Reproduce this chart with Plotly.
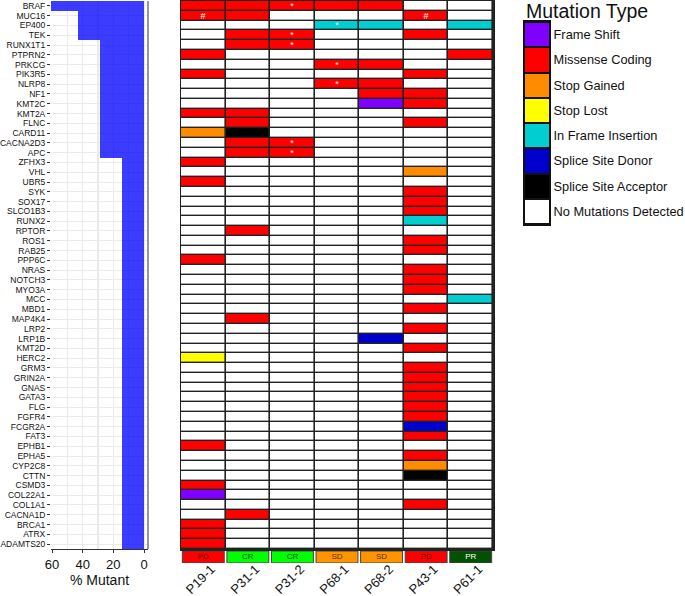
import plotly.graph_objects as go

# ---------------- data ----------------
genes = ["BRAF", "MUC16", "EP400", "TEK", "RUNX1T1", "PTPRN2", "PRKCG", "PIK3R5", "NLRP8",
         "NF1", "KMT2C", "KMT2A", "FLNC", "CARD11", "CACNA2D3", "APC", "ZFHX3", "VHL", "UBR5",
         "SYK", "SOX17", "SLCO1B3", "RUNX2", "RPTOR", "ROS1", "RAB25", "PPP6C", "NRAS",
         "NOTCH3", "MYO3A", "MCC", "MBD1", "MAP4K4", "LRP2", "LRP1B", "KMT2D", "HERC2",
         "GRM3", "GRIN2A", "GNAS", "GATA3", "FLG", "FGFR4", "FCGR2A", "FAT3", "EPHB1",
         "EPHA5", "CYP2C8", "CTTN", "CSMD3", "COL22A1", "COL1A1", "CACNA1D", "BRCA1",
         "ATRX", "ADAMTS20"]

samples = ["P19-1", "P31-1", "P31-2", "P68-1", "P68-2", "P43-1", "P61-1"]
responses = ["PD", "CR", "CR", "SD", "SD", "PD", "PR"]

pct_mutant = [71.4, 42.9, 42.9, 42.9,
              28.6, 28.6, 28.6, 28.6, 28.6, 28.6, 28.6, 28.6, 28.6, 28.6, 28.6, 28.6,
              14.3, 14.3, 14.3, 14.3, 14.3, 14.3, 14.3, 14.3, 14.3, 14.3,
              14.3, 14.3, 14.3, 14.3, 14.3, 14.3, 14.3, 14.3, 14.3, 14.3,
              14.3, 14.3, 14.3, 14.3, 14.3, 14.3, 14.3, 14.3, 14.3, 14.3,
              14.3, 14.3, 14.3, 14.3, 14.3, 14.3, 14.3, 14.3, 14.3, 14.3]

# codes: 0 none, 1 frame shift, 2 missense, 3 stop gained, 4 stop lost,
#        5 in-frame insertion, 6 splice donor, 7 splice acceptor
mutation_types = ["No Mutations Detected", "Frame Shift", "Missense Coding", "Stop Gained",
                  "Stop Lost", "In Frame Insertion", "Splice Site Donor", "Splice Site Acceptor"]
type_colors = ["#FFFFFF", "#7F00FF", "#FF0000", "#FF8C00", "#FFFF00", "#00CED1", "#0000CD", "#000000"]
legend_order = [1, 2, 3, 4, 5, 6, 7, 0]

mutation_matrix = [
    [2, 2, 2, 2, 2, 0, 0],  # BRAF
    [2, 2, 0, 0, 0, 2, 0],  # MUC16
    [0, 0, 0, 5, 5, 0, 5],  # EP400
    [0, 2, 2, 0, 0, 2, 0],  # TEK
    [0, 2, 2, 0, 0, 0, 0],  # RUNX1T1
    [2, 0, 0, 0, 0, 0, 2],  # PTPRN2
    [0, 0, 0, 2, 2, 0, 0],  # PRKCG
    [2, 0, 0, 0, 0, 2, 0],  # PIK3R5
    [0, 0, 0, 2, 2, 0, 0],  # NLRP8
    [0, 0, 0, 0, 2, 2, 0],  # NF1
    [0, 0, 0, 0, 1, 2, 0],  # KMT2C
    [2, 2, 0, 0, 0, 0, 0],  # KMT2A
    [0, 2, 0, 0, 0, 2, 0],  # FLNC
    [3, 7, 0, 0, 0, 0, 0],  # CARD11
    [0, 2, 2, 0, 0, 0, 0],  # CACNA2D3
    [0, 2, 2, 0, 0, 0, 0],  # APC
    [2, 0, 0, 0, 0, 0, 0],  # ZFHX3
    [0, 0, 0, 0, 0, 3, 0],  # VHL
    [2, 0, 0, 0, 0, 0, 0],  # UBR5
    [0, 0, 0, 0, 0, 2, 0],  # SYK
    [0, 0, 0, 0, 0, 2, 0],  # SOX17
    [0, 0, 0, 0, 0, 2, 0],  # SLCO1B3
    [0, 0, 0, 0, 0, 5, 0],  # RUNX2
    [0, 2, 0, 0, 0, 0, 0],  # RPTOR
    [0, 0, 0, 0, 0, 2, 0],  # ROS1
    [0, 0, 0, 0, 0, 2, 0],  # RAB25
    [2, 0, 0, 0, 0, 0, 0],  # PPP6C
    [0, 0, 0, 0, 0, 2, 0],  # NRAS
    [0, 0, 0, 0, 0, 2, 0],  # NOTCH3
    [0, 0, 0, 0, 0, 2, 0],  # MYO3A
    [0, 0, 0, 0, 0, 0, 5],  # MCC
    [0, 0, 0, 0, 0, 2, 0],  # MBD1
    [0, 2, 0, 0, 0, 0, 0],  # MAP4K4
    [0, 0, 0, 0, 0, 2, 0],  # LRP2
    [0, 0, 0, 0, 6, 0, 0],  # LRP1B
    [0, 0, 0, 0, 0, 2, 0],  # KMT2D
    [4, 0, 0, 0, 0, 0, 0],  # HERC2
    [0, 0, 0, 0, 0, 2, 0],  # GRM3
    [0, 0, 0, 0, 0, 2, 0],  # GRIN2A
    [0, 0, 0, 0, 0, 2, 0],  # GNAS
    [0, 0, 0, 0, 0, 2, 0],  # GATA3
    [0, 0, 0, 0, 0, 2, 0],  # FLG
    [0, 0, 0, 0, 0, 2, 0],  # FGFR4
    [0, 0, 0, 0, 0, 6, 0],  # FCGR2A
    [0, 0, 0, 0, 0, 2, 0],  # FAT3
    [2, 0, 0, 0, 0, 0, 0],  # EPHB1
    [0, 0, 0, 0, 0, 2, 0],  # EPHA5
    [0, 0, 0, 0, 0, 3, 0],  # CYP2C8
    [0, 0, 0, 0, 0, 7, 0],  # CTTN
    [2, 0, 0, 0, 0, 0, 0],  # CSMD3
    [1, 0, 0, 0, 0, 0, 0],  # COL22A1
    [0, 0, 0, 0, 0, 2, 0],  # COL1A1
    [0, 2, 0, 0, 0, 0, 0],  # CACNA1D
    [2, 0, 0, 0, 0, 0, 0],  # BRCA1
    [2, 0, 0, 0, 0, 0, 0],  # ATRX
    [2, 0, 0, 0, 0, 0, 0],  # ADAMTS20
]

mark_genes = ["BRAF", "TEK", "RUNX1T1", "CACNA2D3", "APC", "EP400", "PRKCG", "NLRP8", "MUC16", "MUC16"]
mark_samples = ["P31-2", "P31-2", "P31-2", "P31-2", "P31-2", "P68-1", "P68-1", "P68-1", "P19-1", "P43-1"]
mark_symbols = ["*", "*", "*", "*", "*", "*", "*", "*", "#", "#"]

response_colors = {"PD": "#FF0000", "CR": "#00FF00", "SD": "#FF9400", "PR": "#005200"}
response_text_colors = {"PD": "#5a0000", "CR": "#0a3a0a", "SD": "#5a3000", "PR": "#FFFFFF"}

# ---------------- build ----------------
W, H = 685, 596
FONT = "Liberation Sans, Arial, sans-serif"

def xd(a, b):
    return [a / W, b / W]

def yd(top, bottom):
    return [1 - bottom / H, 1 - top / H]

text = [["" for _ in samples] for _ in genes]
for g, s, m in zip(mark_genes, mark_samples, mark_symbols):
    text[genes.index(g)][samples.index(s)] = m

n = len(type_colors)
cs = []
for i, c in enumerate(type_colors):
    cs.append([i / n, c])
    cs.append([(i + 1) / n, c])

fig = go.Figure()

# left: % mutant bars
fig.add_trace(go.Bar(x=pct_mutant, y=genes, orientation="h", marker=dict(color="rgb(0,0,255)", line=dict(width=0)),
                     opacity=0.76, width=1.0, xaxis="x", yaxis="y", hoverinfo="skip", showlegend=False))

# main heatmap
fig.add_trace(go.Heatmap(z=mutation_matrix, x=samples, y=genes, colorscale=cs, zmin=-0.5, zmax=n - 0.5,
                         showscale=False, xgap=1.6, ygap=1.4, text=text, texttemplate="%{text}",
                         textfont=dict(color="white", size=9, family=FONT), xaxis="x2", yaxis="y2",
                         hoverinfo="skip"))

# legend key
fig.add_trace(go.Heatmap(z=[[k] for k in legend_order], x=["key"],
                         y=[mutation_types[k] for k in legend_order], colorscale=cs, zmin=-0.5,
                         zmax=n - 0.5, showscale=False, ygap=2, xaxis="x3", yaxis="y3", hoverinfo="skip"))

# response boxes
fig.add_trace(go.Bar(x=samples, y=[1] * len(samples), width=0.94,
                     marker=dict(color=[response_colors[r] for r in responses], line=dict(color="#444", width=1)),
                     xaxis="x4", yaxis="y4", hoverinfo="skip", showlegend=False))
fig.add_trace(go.Scatter(x=samples, y=[0.5] * len(samples), mode="text", text=responses,
                         textfont=dict(size=8, family=FONT, color=[response_text_colors[r] for r in responses]),
                         xaxis="x4", yaxis="y4", hoverinfo="skip", showlegend=False))

grid = "#EBEBEB"
fig.update_layout(
    width=W, height=H, autosize=False,
    margin=dict(l=0, r=0, t=0, b=0, autoexpand=False),
    paper_bgcolor="white", plot_bgcolor="white",
    font=dict(family=FONT, color="#111"),
    showlegend=False, bargap=0,
    xaxis=dict(domain=xd(51, 148), anchor="y", automargin=False, range=[60.65, -2.6], tickvals=[60, 40, 20, 0],
               ticks="outside", ticklen=3, tickcolor="#333", tickfont=dict(size=13, color="#111"),
               showgrid=True, gridcolor=grid, gridwidth=1.2, zeroline=False,
               minor=dict(tickvals=[10, 30, 50], showgrid=True, gridcolor=grid, ticks=""),
               showline=True, linecolor="#333", linewidth=1,
               title=dict(text="% Mutant", font=dict(size=14, color="#111"), standoff=4)),
    yaxis=dict(domain=yd(1, 549), anchor="x", automargin=False, type="category", categoryorder="array",
               categoryarray=genes, tickmode="array", tickvals=genes, ticktext=genes,
               range=[len(genes) - 0.5, -0.5], ticks="outside", ticklen=3, tickcolor="#333",
               tickfont=dict(size=8.5, color="#111"), showgrid=True, gridcolor=grid, zeroline=False),
    xaxis2=dict(domain=xd(181, 493), anchor="y2", automargin=False, type="category", categoryorder="array",
                categoryarray=samples, showticklabels=False, ticks="", showgrid=False, zeroline=False,
                showline=True, mirror=True, linecolor="#222", linewidth=1.5),
    yaxis2=dict(domain=yd(1, 549), anchor="x2", automargin=False, type="category", categoryorder="array",
                categoryarray=genes, range=[len(genes) - 0.5, -0.5], showticklabels=False, ticks="",
                showgrid=False, zeroline=False, showline=True, mirror=True, linecolor="#222", linewidth=1.5),
    xaxis3=dict(domain=xd(525, 549), anchor="y3", automargin=False, showticklabels=False, ticks="",
                showgrid=False, zeroline=False, showline=True, mirror=True, linecolor="#111", linewidth=2),
    yaxis3=dict(domain=yd(22, 224), anchor="x3", automargin=False, side="right", type="category",
                categoryorder="array", categoryarray=[mutation_types[k] for k in legend_order],
                range=[len(legend_order) - 0.5, -0.5], ticks="", tickfont=dict(size=12.8, color="#111"),
                showgrid=False, zeroline=False, showline=True, mirror=True, linecolor="#111", linewidth=2),
    xaxis4=dict(domain=xd(181, 493), anchor="y4", automargin=False, type="category", categoryorder="array",
                categoryarray=samples, range=[-0.5, len(samples) - 0.5], tickangle=-45, ticks="",
                tickfont=dict(size=13, color="#111"), showgrid=False, zeroline=False,
                ticklabelshift=8, ticklabelstandoff=-5),
    yaxis4=dict(domain=yd(551, 563), anchor="x4", automargin=False, range=[0, 1], visible=False),
    shapes=[
        dict(type="rect", xref="x2 domain", yref="y2 domain", x0=0, x1=1, y0=0, y1=1,
             fillcolor="#222", line=dict(width=0), layer="below"),
        dict(type="rect", xref="x3 domain", yref="y3 domain", x0=0, x1=1, y0=0, y1=1,
             fillcolor="#111", line=dict(width=0), layer="below"),
        dict(type="line", xref="x domain", yref="y domain", x0=1, x1=1, y0=0, y1=1,
             line=dict(color="#333", width=1)),
    ],
    annotations=[
        dict(text="Mutation Type", xref="paper", yref="paper", x=524 / W, y=1 - 11 / H,
             xanchor="left", yanchor="middle", showarrow=False, font=dict(size=19.5, color="#111")),
    ],
)

fig.write_html("out.html", config={"displayModeBar": False, "staticPlot": True},
               post_script="document.body.style.margin='0px';document.body.style.overflow='hidden';")
